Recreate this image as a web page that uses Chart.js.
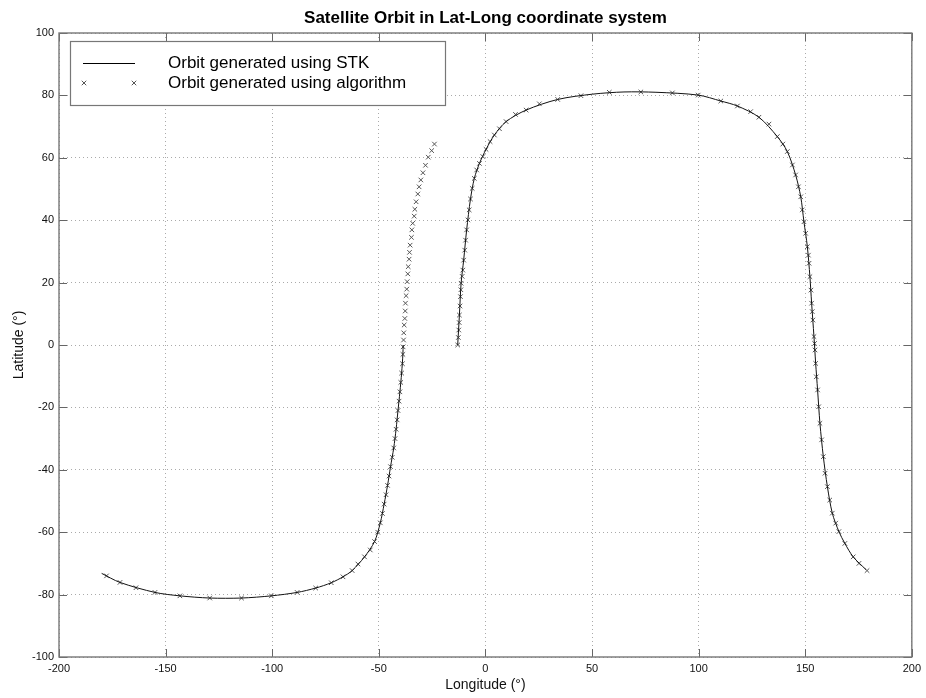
<!DOCTYPE html>
<html>
<head>
<meta charset="utf-8">
<script src="https://cdn.jsdelivr.net/npm/chart.js@4.4.0/dist/chart.umd.min.js"></script>
<style>
html, body { margin: 0; padding: 0; background: #fff; }
canvas { display: block; }
</style>
</head>
<body>
<canvas id="myChart" width="926" height="698"></canvas>
<script>
// axis ticks
const xTicks = [-200, -150, -100, -50, 0, 50, 100, 150, 200];
const yTicks = [-100, -80, -60, -40, -20, 0, 20, 40, 60, 80, 100];

// STK orbit (null latitude = break in the track)
const stkLon = [-13.0, -12.2, -11.4, -10.2, -8.8, -7.0, -5.2, -2.8, 0.3, 4.2, 9.7, 19.1, 33.9, 50.3, 65.0, 80.0, 99.8,
  110.4, 118.2, 128.3, 136.9, 141.6, 145.5, 147.9, 149.4, 151.0, 152.2, 153.0, 154.1, 154.9, 155.8, 156.9, 158.5,
  160.4, 162.7, 165.8, 168.6, 172.5, 178.5,
  180,
  -180.0, -171.4, -155.0, -143.3, -129.3, -114.4, -100.4, -88.3, -79.6, -72.3, -66.8, -62.5, -56.7, -52.0, -49.3,
  -47.5, -45.9, -44.5, -43.0, -41.9, -41.0, -40.1, -39.3, -38.7, -38.6];
const stkLat = [0, 9.6, 19.8, 27.2, 36.9, 46.8, 53.4, 58.2, 62.7, 67.3, 71.6, 75.3, 78.7, 80.4, 81.1, 81.0, 80.1,
  78.2, 76.6, 73.0, 66.8, 62.0, 54.5, 47.5, 39.5, 31.5, 21.9, 13.4, 2.7, -5.9, -14.4, -25.1, -35.8,
  -45.4, -53.9, -59.8, -63.6, -67.9, -72.0,
  null,
  -73.2, -76.1, -79.3, -80.4, -81.1, -81.1, -80.4, -79.3, -77.9, -76.2, -74.3, -72.3, -67.9, -63.0, -57.0,
  -51.0, -45.0, -39.0, -33.0, -27.0, -21.0, -15.0, -9.0, -3.0, 0];

// orbit from the algorithm (markers only)
const algLon = [-13.0, -12.7, -12.5, -12.3, -12.2, -11.9, -11.7, -11.5, -11.4, -10.9, -10.6, -10.2, -9.7, -9.3, -8.8,
  -8.2, -7.6, -7.0, -6.2, -5.2, -4.1, -2.8, -1.2, 0.3, 2.2, 4.2, 6.6, 9.7, 14.1, 19.1, 25.3, 33.9, 44.8, 58.1,
  72.9, 87.7, 99.8, 110.4, 118.2, 124.4, 128.3, 133.0, 136.9, 139.5, 141.6, 144.0, 145.5, 146.8, 147.9, 148.6,
  149.4, 150.2, 151.0, 151.5, 151.8, 152.2, 152.7, 153.0, 153.3, 153.6, 154.1, 154.4, 154.6, 154.9, 155.2, 155.8,
  156.3, 156.9, 157.7, 158.5, 159.3, 160.4, 161.5, 162.7, 164.3, 165.8, 168.6, 172.5, 175.2, 179.0,
  -177.7, -171.4, -163.9, -155.0, -143.3, -129.3, -114.4, -100.4, -88.3, -79.6, -72.3, -66.8, -62.5, -59.8, -56.7,
  -54.0, -52.0, -50.5, -49.3, -48.3, -47.5, -46.6, -45.9, -45.2, -44.5, -43.7, -43.0, -42.4, -41.9, -41.4, -41.0,
  -40.5, -40.1, -39.7, -39.3, -38.9, -38.7, -38.6, -38.4, -38.3, -38.1, -37.8, -37.6, -37.5, -37.2, -36.9, -36.7,
  -36.4, -36.2, -35.8, -35.6, -35.3, -34.7, -34.5, -34.1, -33.4, -33.1, -32.5, -31.7, -31.1, -30.3, -29.3, -28.1,
  -26.8, -25.2, -23.9];
const algLat = [0, 2.4, 4.8, 7.2, 9.6, 12.5, 15.5, 17.7, 19.8, 22.0, 24.0, 27.2, 30.4, 33.6, 36.9,
  40.1, 43.3, 46.8, 50.2, 53.4, 56.1, 58.2, 60.4, 62.7, 65.2, 67.3, 69.3, 71.6, 73.9, 75.3, 77.3, 78.7, 79.9, 81.0,
  81.1, 80.8, 80.1, 78.2, 76.6, 74.8, 73.0, 70.8, 66.8, 64.4, 62.0, 57.7, 54.5, 50.7, 47.5, 43.3,
  39.5, 35.8, 31.5, 28.8, 26.2, 21.9, 17.6, 13.4, 10.7, 8.0, 2.7, 0.5, -1.6, -5.9, -10.2, -14.4,
  -19.8, -25.1, -30.4, -35.8, -41.1, -45.4, -49.7, -53.9, -57.1, -59.8, -63.6, -67.9, -70.0, -72.3,
  -74.0, -76.1, -77.8, -79.3, -80.4, -81.1, -81.1, -80.4, -79.3, -77.9, -76.2, -74.3, -72.3, -70.2, -67.9,
  -65.7, -63.0, -60.0, -57.0, -54.0, -51.0, -48.0, -45.0, -42.0, -39.0, -36.0, -33.0, -30.0, -27.0, -24.0, -21.0,
  -18.0, -15.0, -12.0, -9.0, -6.0, -3.0, -0.6, 1.6, 3.9, 6.4, 8.5, 10.9, 13.4, 15.8, 17.9, 20.3,
  22.8, 25.1, 27.5, 29.7, 32.0, 34.5, 36.9, 39.0, 41.3, 43.5, 45.9, 48.4, 50.7, 52.9, 55.2, 57.6,
  60.2, 62.3, 64.4];

const FONT = "'Liberation Sans', Arial, sans-serif";

// matlab style: box, inner ticks on all sides, legend in the corner
const matlabBox = {
  id: 'matlabBox',
  afterDraw(chart) {
    const ctx = chart.ctx;
    const a = chart.chartArea;
    const xs = chart.scales.x, ys = chart.scales.y;
    ctx.save();
    ctx.strokeStyle = '#666';
    ctx.lineWidth = 1;
    ctx.beginPath();
    xTicks.forEach(v => {
      const px = Math.round(xs.getPixelForValue(v)) + 0.5;
      ctx.moveTo(px, a.bottom); ctx.lineTo(px, a.bottom - 8);
      ctx.moveTo(px, a.top); ctx.lineTo(px, a.top + 8);
    });
    yTicks.forEach(v => {
      const py = Math.round(ys.getPixelForValue(v)) + 0.5;
      ctx.moveTo(a.left, py); ctx.lineTo(a.left + 8, py);
      ctx.moveTo(a.right, py); ctx.lineTo(a.right - 8, py);
    });
    ctx.stroke();
    ctx.lineWidth = 1.4;
    ctx.strokeStyle = '#777';
    ctx.strokeRect(a.left, a.top, a.right - a.left, a.bottom - a.top);

    // legend
    const lx = 70, ly = 41, lw = 375, lh = 64;
    ctx.fillStyle = '#fff';
    ctx.fillRect(lx, ly, lw, lh);
    ctx.lineWidth = 1.2;
    ctx.strokeStyle = '#777';
    ctx.strokeRect(lx + 0.5, ly + 0.5, lw, lh);
    ctx.strokeStyle = '#000';
    ctx.lineWidth = 1;
    ctx.beginPath();
    ctx.moveTo(83, 63.5); ctx.lineTo(135, 63.5);
    ctx.stroke();
    const ds = chart.data.datasets[1];
    ctx.strokeStyle = ds.borderColor;
    [84, 134].forEach(mx => {
      Chart.helpers.drawPoint(ctx, {pointStyle: 'crossRot', radius: ds.pointRadius, borderWidth: 1}, mx, 83);
    });
    ctx.fillStyle = '#000';
    ctx.font = '17px ' + FONT;
    ctx.textBaseline = 'middle';
    ctx.textAlign = 'left';
    ctx.fillText(chart.data.datasets[0].label, 168, 63);
    ctx.fillText(chart.data.datasets[1].label, 168, 83);
    ctx.restore();
  }
};

const ctx = document.getElementById('myChart').getContext('2d');
const myChart = new Chart(ctx, {
  type: 'scatter',
  data: {
    datasets: [{
      label: 'Orbit generated using STK',
      data: stkLon.map((x, i) => ({x: x, y: stkLat[i]})),
      showLine: true,
      borderColor: '#111',
      borderWidth: 1,
      pointRadius: 0,
      tension: 0.3,
      spanGaps: false
    }, {
      label: 'Orbit generated using algorithm',
      data: algLon.map((x, i) => ({x: x, y: algLat[i]})),
      showLine: false,
      pointStyle: 'crossRot',
      pointRadius: 3.2,
      borderColor: '#555',
      borderWidth: 1
    }]
  },
  options: {
    responsive: false,
    animation: false,
    devicePixelRatio: 1,
    layout: { padding: { left: 0, right: 13, top: 0, bottom: 0 } },
    plugins: {
      legend: { display: false },
      tooltip: { enabled: false },
      title: {
        display: true,
        fullSize: false,
        text: 'Satellite Orbit in Lat-Long coordinate system',
        color: '#000',
        font: { family: FONT, size: 17, weight: 'bold', lineHeight: 1.2 },
        padding: { top: 8, bottom: 4.6 }
      }
    },
    scales: {
      x: {
        type: 'linear',
        min: -200, max: 200,
        afterBuildTicks: s => { s.ticks = xTicks.map(v => ({value: v})); },
        afterFit: s => { s.height = 41; },
        ticks: { color: '#111', padding: 5, font: { family: FONT, size: 11 } },
        grid: { color: '#aaa', lineWidth: 1, drawTicks: false },
        border: { display: false, dash: [1, 3] },
        title: {
          display: true, text: 'Longitude (°)', color: '#111',
          font: { family: FONT, size: 14, lineHeight: 1.2 },
          padding: { top: 0, bottom: 4 }
        }
      },
      y: {
        type: 'linear',
        min: -100, max: 100,
        afterBuildTicks: s => { s.ticks = yTicks.map(v => ({value: v})); },
        afterFit: s => { s.width = 59; },
        ticks: { color: '#111', padding: 5, font: { family: FONT, size: 11 } },
        grid: { color: '#aaa', lineWidth: 1, drawTicks: false },
        border: { display: false, dash: [1, 3] },
        title: {
          display: true, text: 'Latitude (°)', color: '#111',
          font: { family: FONT, size: 14, lineHeight: 1.2 },
          padding: { top: 11, bottom: 0 }
        }
      }
    }
  },
  plugins: [matlabBox]
});
</script>
</body>
</html>
